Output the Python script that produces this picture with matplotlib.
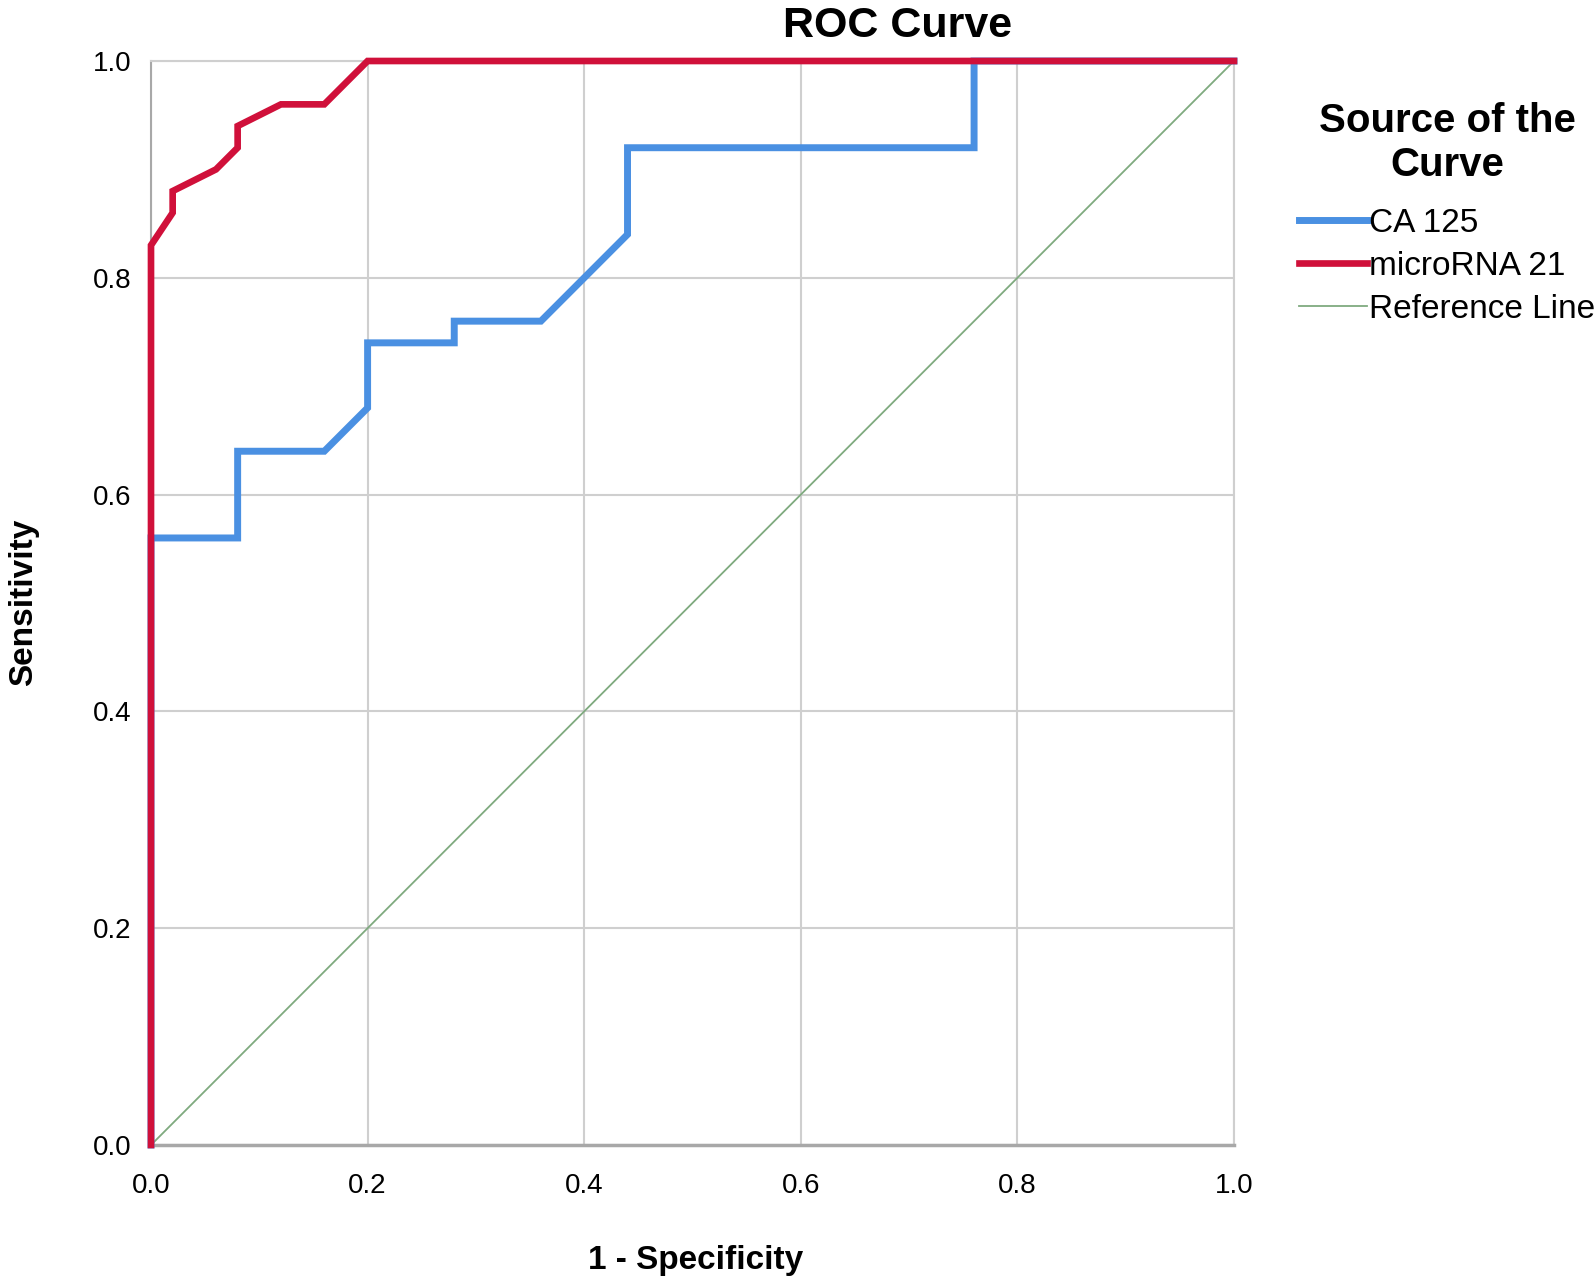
import matplotlib
matplotlib.use("Agg")
import matplotlib.pyplot as plt

plt.rcParams['font.family'] = ['Liberation Sans', 'DejaVu Sans']

# Data
ca125_fpr = [0.0, 0.0, 0.08, 0.08, 0.16, 0.20, 0.20, 0.28, 0.28, 0.36, 0.44, 0.44, 0.76, 0.76, 1.0]
ca125_tpr = [0.0, 0.56, 0.56, 0.64, 0.64, 0.68, 0.74, 0.74, 0.76, 0.76, 0.84, 0.92, 0.92, 1.0, 1.0]
mir21_fpr = [0.0, 0.0, 0.02, 0.02, 0.06, 0.08, 0.08, 0.12, 0.16, 0.20, 1.0]
mir21_tpr = [0.0, 0.83, 0.86, 0.88, 0.90, 0.92, 0.94, 0.96, 0.96, 1.0, 1.0]
ref_x = [0.0, 1.0]
ref_y = [0.0, 1.0]
ticks = [0.0, 0.2, 0.4, 0.6, 0.8, 1.0]
tick_labels = ["0.0", "0.2", "0.4", "0.6", "0.8", "1.0"]

W, H = 1594, 1286
fig = plt.figure(figsize=(W / 100, H / 100), dpi=100)
left, right, top, bottom = 151, 1234, 61, 1145
aw, ah = right - left, bottom - top
ax = fig.add_axes([left / W, 1 - bottom / H, aw / W, ah / H])

ax.plot(ref_x, ref_y, color='#7faa7f', lw=1.3, label='Reference Line', zorder=2)
ax.plot(ca125_fpr, ca125_tpr, color='#4a90e2', lw=5.0, label='CA 125', zorder=3,
        clip_on=False, solid_joinstyle='miter')
ax.plot(mir21_fpr, mir21_tpr, color='#d0103a', lw=4.8, label='microRNA 21', zorder=4,
        clip_on=False, solid_joinstyle='miter')

ax.set_xlim(0, 1)
ax.set_ylim(0, 1)
ax.set_xticks(ticks)
ax.set_xticklabels(tick_labels)
ax.set_yticks(ticks)
ax.set_yticklabels(tick_labels)
ax.tick_params(axis='both', length=0, labelsize=20)
ax.tick_params(axis='x', pad=20)
ax.tick_params(axis='y', pad=14)
ax.grid(True, color='#cfcfcf', lw=1.5)
ax.set_axisbelow(True)
for s in ax.spines.values():
    s.set_color('#cfcfcf')
    s.set_linewidth(1.5)
ax.spines['left'].set_color('#a8a8a8')
ax.spines['bottom'].set_color('#a8a8a8')
ax.spines['bottom'].set_linewidth(2.5)

ax.set_xlabel('1 - Specificity', fontsize=24, fontweight='bold', va='center')
ax.xaxis.set_label_coords((696 - left) / aw, -(1261 - bottom) / ah)
ax.set_ylabel('Sensitivity', fontsize=24, fontweight='bold', va='center')
ax.yaxis.set_label_coords(-(left - 24) / aw, (bottom - 602) / ah)

fig.text(898 / W, 1 - 26 / H, 'ROC Curve', fontsize=31, fontweight='bold',
         ha='center', va='center')

handles, labels = ax.get_legend_handles_labels()
order = [1, 2, 0]
leg = fig.legend([handles[i] for i in order], [labels[i] for i in order],
                 title='Source of the\nCurve', loc='upper left',
                 bbox_to_anchor=(1299 / W, 1 - 102 / H), frameon=False,
                 fontsize=24, title_fontproperties={'size': 29, 'weight': 'bold'},
                 handlelength=2.05, handletextpad=0.05, labelspacing=0.36,
                 borderaxespad=0, borderpad=0)
leg.get_title().set_multialignment('center')
leg._legend_box.align = 'center'
leg._legend_box.sep = 17

fig.savefig('out.png', dpi=100)
